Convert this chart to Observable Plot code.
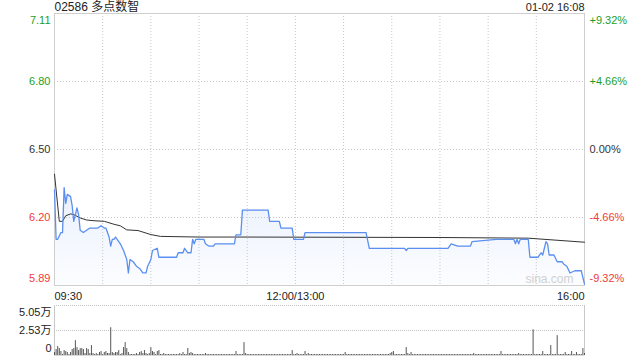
<!DOCTYPE html>
<html><head><meta charset="utf-8">
<script src="https://cdn.jsdelivr.net/npm/d3@7"></script>
<script src="https://cdn.jsdelivr.net/npm/@observablehq/plot@0.6"></script>
<style>
body{margin:0;background:#fff;}
#wrap{position:relative;width:640px;height:360px;overflow:hidden;}
#main,#vol{position:absolute;left:0;}
#main{top:0}
#vol{top:300px}
</style></head><body><div id="wrap"><div id="main"></div><div id="vol"></div></div>
<script>
const FONT = '"Liberation Sans", Arial, "Noto Sans CJK SC", sans-serif';
const title = "02586 多点数智";
const stamp = "01-02 16:08";
const prevClose = 6.50;
const pctLevels = [0.0932, 0.0466, 0, -0.0466, -0.0932];
const priceLabels = ["7.11", "6.80", "6.50", "6.20", "5.89"];
const pctLabels = ["+9.32%", "+4.66%", "0.00%", "-4.66%", "-9.32%"];
const timeLabels = ["09:30", "12:00/13:00", "16:00"];
const timeLabelIdx = [0, 150, 330];
const gridIdx = [30, 60, 90, 120, 150, 180, 210, 240, 270, 300];

// trading-minute index (0 = 09:30, 150 = 12:00/13:00, 330 = 16:00) and price
const priceIdx = [0,1,2,4,5,6,7,8,10,11,12,14,15,16,18,20,22,24,27,29,31,32,34,35,36,37,38,39,41,43,45,46,47,49,51,53,55,57,58,60,61,64,65,76,77,80,81,83,85,86,87,88,93,94,96,99,100,112,113,116,117,133,134,140,141,148,149,155,156,194,196,218,219,220,245,247,251,259,260,275,286,287,288,289,290,295,296,301,303,304,306,307,308,311,313,316,317,319,321,324,328,330];
const priceVal = [6.32,6.10,6.10,6.13,6.13,6.33,6.26,6.30,6.29,6.25,6.18,6.24,6.21,6.14,6.13,6.14,6.15,6.15,6.15,6.16,6.15,6.15,6.11,6.07,6.10,6.10,6.11,6.10,6.08,6.05,6.01,5.95,6.01,6.00,5.98,5.97,5.95,5.95,5.98,6.01,6.05,6.06,6.02,6.02,6.04,6.04,6.06,6.04,6.04,6.10,6.08,6.10,6.10,6.08,6.07,6.07,6.08,6.08,6.12,6.12,6.23,6.23,6.18,6.18,6.15,6.15,6.10,6.10,6.13,6.13,6.06,6.06,6.05,6.06,6.06,6.08,6.07,6.07,6.09,6.10,6.10,6.08,6.10,6.08,6.10,6.10,6.02,6.02,6.04,6.03,6.09,6.08,6.03,6.03,6.00,6.00,5.99,5.98,5.95,5.96,5.96,5.90];

const avgIdx = [0,3,5,7,10,12,16,20,24,31,37,41,45,52,60,66,90,120,180,240,295,330];
const avgVal = [6.39,6.18,6.18,6.205,6.213,6.21,6.195,6.186,6.183,6.18,6.167,6.16,6.142,6.139,6.121,6.113,6.110,6.110,6.109,6.108,6.105,6.087];

// volume per minute, thousands of shares
const volK = [
3,6,9,7,4,1,5,4,3,1,
3,6,7,15,8,5,7,7,6,2,
7,6,2,10,2,1,2,1,3,4,
1,3,4,2,2,28,3,2,3,3,
5,1,2,8,13,7,3,1,1,1,
1,2,1,3,4,2,5,2,1,2,
8,4,3,1,4,5,1,1,2,1,
1,1,1,1,1,1,1,1,2,1,
3,1,1,7,2,3,2,1,1,1,
1,1,1,1,2,1,1,1,1,1,
1,1,1,1,1,1,1,1,1,1,
1,1,1,4,1,1,1,1,13,2,
1,1,1,1,1,1,1,1,1,1,
1,1,1,1,1,1,1,1,1,1,
1,1,1,1,1,1,1,1,5,1,
1,2,1,1,1,1,4,1,2,1,
1,1,1,1,1,1,1,1,1,1,
1,1,1,1,1,1,1,1,1,1,
1,3,1,1,1,1,1,1,1,1,
1,1,1,1,1,1,1,1,1,1,
1,1,1,1,1,1,1,1,1,2,
3,4,1,1,1,1,1,1,1,8,
2,1,3,1,1,1,1,1,1,1,
1,1,1,1,1,1,1,1,1,1,
1,1,1,1,1,1,1,1,1,1,
1,1,1,1,1,1,1,1,1,1,
1,2,1,1,1,1,1,1,1,1,
1,1,1,1,1,1,1,1,4,1,
1,1,1,1,1,1,1,1,1,2,
1,1,1,1,1,1,1,1,26,1,
1,1,1,1,4,1,1,1,1,10,
1,1,1,20,1,1,1,1,3,1,
1,1,4,1,1,3,1,1,1,7,
2];
const volLabels = ["5.05万", "2.53万", "0"];
const volLevels = [50500, 25300, 0];

const lo = prevClose * (1 + pctLevels[4]);
const hi = prevClose * (1 + pctLevels[0]);
const line = priceIdx.map((i, k) => ({i, p: priceVal[k]}));
const avg = avgIdx.map((i, k) => ({i, p: avgVal[k]}));
const lvls = pctLevels.map((q, k) => ({
  y: prevClose * (1 + q), price: priceLabels[k], pct: pctLabels[k],
  c: q > 0 ? "#1e9e1e" : q < 0 ? "#f03c3c" : "#333"
}));
const dots = {stroke: "#c8c8c8", strokeDasharray: "1,2"};

const main = Plot.plot({
  width: 640, height: 300,
  marginTop: 13, marginBottom: 15, marginLeft: 54, marginRight: 56,
  x: {domain: [0, 330], axis: null},
  y: {domain: [lo, hi], axis: null},
  style: {fontFamily: FONT, fontSize: "11px", background: "#fff", overflow: "visible"},
  marks: [
    Plot.areaY(line, {x: "i", y1: lo, y2: "p", fill: "url(#blueFade)"}),
    Plot.ruleX(gridIdx, {x: d => d, ...dots}),
    Plot.ruleY(lvls.slice(1, 4), {y: "y", ...dots}),
    Plot.frame({stroke: "#cfcfcf"}),
    Plot.line(avg, {x: "i", y: "p", stroke: "#333", strokeWidth: 1}),
    Plot.line(line, {x: "i", y: "p", stroke: "#5b8ff0", strokeWidth: 1.3}),
    Plot.text(["sina.com"], {x: 330, y: lo, text: d => d, dx: -11, dy: -6, textAnchor: "end", fill: "#d0d0d0", fontSize: 12}),
    // left price labels
    Plot.text(lvls.slice(0, 1), {x: 0, y: "y", text: "price", fill: "c", dx: -4, dy: 7, textAnchor: "end"}),
    Plot.text(lvls.slice(1, 4), {x: 0, y: "y", text: "price", fill: "c", dx: -4, textAnchor: "end"}),
    Plot.text(lvls.slice(4), {x: 0, y: "y", text: "price", fill: "c", dx: -4, dy: -7, textAnchor: "end"}),
    // right pct labels
    Plot.text(lvls.slice(0, 1), {x: 330, y: "y", text: "pct", fill: "c", dx: 5, dy: 7, textAnchor: "start"}),
    Plot.text(lvls.slice(1, 4), {x: 330, y: "y", text: "pct", fill: "c", dx: 5, textAnchor: "start"}),
    Plot.text(lvls.slice(4), {x: 330, y: "y", text: "pct", fill: "c", dx: 5, dy: -7, textAnchor: "start"}),
    // time labels
    Plot.text([0], {x: d => timeLabelIdx[d], y: lo, text: d => timeLabels[d], dy: 11, textAnchor: "start", fill: "#222"}),
    Plot.text([1], {x: d => timeLabelIdx[d], y: lo, text: d => timeLabels[d], dy: 11, textAnchor: "middle", fill: "#222"}),
    Plot.text([2], {x: d => timeLabelIdx[d], y: lo, text: d => timeLabels[d], dy: 11, textAnchor: "end", fill: "#222"}),
    // title and time stamp
    Plot.text([title], {x: 0, y: hi, text: d => d, dy: -6, textAnchor: "start", fill: "#222", fontSize: 12}),
    Plot.text([stamp], {x: 330, y: hi, text: d => d, dy: -6, textAnchor: "end", fill: "#222", fontSize: 11})
  ]
});
const defs = d3.select(main).insert("defs", ":first-child");
const grad = defs.append("linearGradient").attr("id", "blueFade")
  .attr("x1", 0).attr("y1", 0).attr("x2", 0).attr("y2", 1);
grad.append("stop").attr("offset", "0%").attr("stop-color", "#5b8ff0").attr("stop-opacity", 0.13);
grad.append("stop").attr("offset", "100%").attr("stop-color", "#5b8ff0").attr("stop-opacity", 0.02);
document.getElementById("main").appendChild(main);

const vols = volK.map((v, i) => ({i, v: v * 1000}));
const vl = volLevels.map((y, k) => ({y, t: volLabels[k]}));
const vol = Plot.plot({
  width: 640, height: 60,
  marginTop: 5, marginBottom: 5, marginLeft: 54, marginRight: 56,
  x: {domain: [0, 330], axis: null},
  y: {domain: [0, 50500], axis: null},
  style: {fontFamily: FONT, fontSize: "11px", background: "#fff", overflow: "visible"},
  marks: [
    Plot.ruleY(vl.slice(0, 2), {y: "y", stroke: "#c0c0c0", strokeDasharray: "1,1"}),
    Plot.ruleY([0], {stroke: "#d8d8d8"}),
    Plot.ruleX([0, 330], {stroke: "#c8c8c8"}),
    Plot.ruleX(vols, {x: "i", y1: 0, y2: "v", stroke: "#555", strokeWidth: 1}),
    Plot.text(vl.slice(0, 1), {x: 0, y: "y", text: "t", dx: -3, dy: 7, textAnchor: "end", fill: "#222"}),
    Plot.text(vl.slice(1, 2), {x: 0, y: "y", text: "t", dx: -3, textAnchor: "end", fill: "#222"}),
    Plot.text(vl.slice(2), {x: 0, y: "y", text: "t", dx: -3, dy: -7, textAnchor: "end", fill: "#222"})
  ]
});
document.getElementById("vol").appendChild(vol);
</script>
</body></html>
